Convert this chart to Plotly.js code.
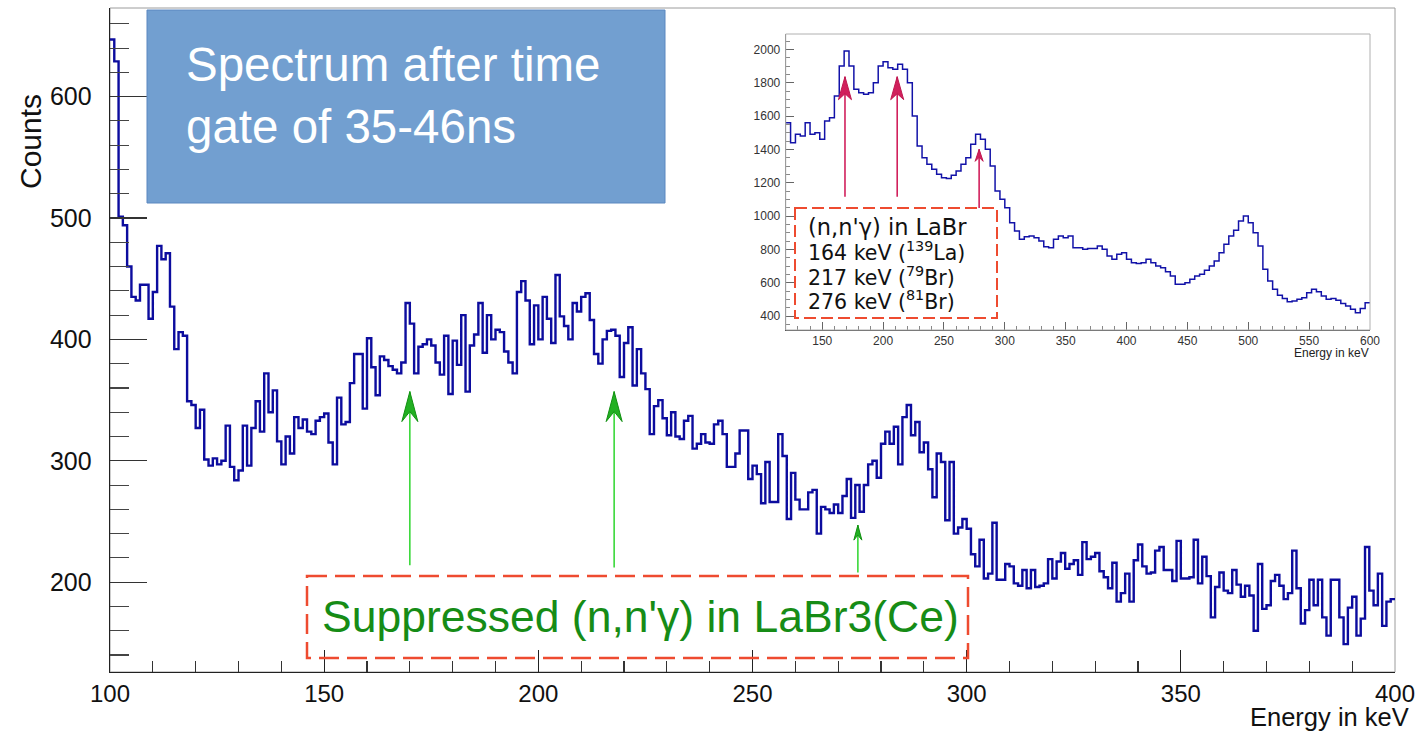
<!DOCTYPE html>
<html>
<head>
<meta charset="utf-8">
<script src="https://cdn.plot.ly/plotly-3.0.1.min.js"></script>
<style>html,body{margin:0;padding:0;background:#fff;}#chart{width:1425px;height:732px;}</style>
</head>
<body>
<div id="chart"></div>
<script>
// ---------- data ----------
const mainLowEdge = 100;
const mainBinWidth = 1;
const mainCounts = [
647,629,501,494,460,435,432,445,445,417,
439,477,466,471,427,392,406,403,349,346,
327,342,301,296,302,297,300,329,295,284,
292,329,296,327,349,324,372,340,358,316,
297,320,306,336,327,334,324,322,333,336,
339,315,297,352,330,332,364,388,388,343,
401,377,354,386,383,378,375,372,381,430,
413,372,394,396,400,395,381,371,403,355,
399,379,420,357,395,404,430,389,420,400,
408,406,390,381,372,439,448,432,396,428,
400,435,417,397,453,419,411,400,430,423,
435,438,416,388,380,400,407,408,403,369,
397,410,362,392,372,359,322,345,350,335,
321,340,320,318,333,337,310,314,322,315,
314,330,333,322,295,295,306,325,325,285,
296,289,265,299,266,266,322,304,252,290,
268,260,260,274,276,240,262,260,257,264,
257,271,285,253,280,258,280,297,300,286,
314,324,314,328,297,336,346,321,332,307,
315,293,270,306,299,251,299,240,245,252,
244,223,213,235,203,207,249,202,202,215,
213,199,197,210,195,210,196,197,199,219,
203,217,224,211,215,218,206,233,219,221,
224,209,204,195,216,184,191,207,184,218,
231,213,207,208,226,229,210,210,201,234,
203,203,204,235,199,221,205,171,196,208,
193,191,210,198,188,197,189,160,215,178,
181,201,206,197,186,191,226,195,166,177,
202,181,202,171,156,202,202,171,149,179,
188,156,170,229,193,181,207,164,184,186
];

const insetLowEdge = 120;
const insetBinWidth = 4;
const insetCounts = [
1560,1440,1490,1480,1560,1490,1500,1460,1570,1590,
1720,1900,1990,1900,1760,1740,1730,1740,1800,1900,
1925,1890,1880,1910,1880,1800,1600,1420,1350,1310,
1280,1250,1230,1225,1245,1270,1310,1350,1430,1490,
1460,1400,1300,1150,1100,1050,960,910,860,875,
880,870,850,815,810,860,880,870,880,810,
810,800,805,805,820,800,760,740,770,780,
740,720,715,720,740,720,700,690,665,640,
590,590,600,620,640,650,675,700,730,780,
830,880,915,970,1000,960,900,820,680,610,
560,525,505,485,490,500,510,540,560,545,
520,500,505,495,475,460,440,420,445,480
];

// arrow markers (keV, tip count, tail count)
const mainArrowsKeV = [170, 217.7, 274.6];
const mainArrowTips = [357, 357, 247];
const mainArrowTails = [214, 212, 208];
const insetArrowsKeV = [168.7, 211.6, 278.9];
const insetArrowTips = [1836, 1836, 1400];
const insetArrowTails = [1116, 1116, 1048];
const insetHeader = "(n,n'γ) in LaBr";
const insetLines = ["164 keV (<sup>139</sup>La)", "217 keV (<sup>79</sup>Br)", "276 keV (<sup>81</sup>Br)"];

// ---------- helpers ----------
function stepTrace(low, width, counts, xa, ya, color, lw) {
  const x = [], y = [];
  counts.forEach((c, i) => { x.push(low + i * width); y.push(c); });
  x.push(low + counts.length * width); y.push(counts[counts.length - 1]);
  return {x, y, xaxis: xa, yaxis: ya, type: 'scatter', mode: 'lines',
          line: {shape: 'hv', color, width: lw}, hoverinfo: 'skip', showlegend: false};
}

const W = 1425, H = 732, L = 110, R = 30, T = 8, B = 60;
const pw = W - L - R, ph = H - T - B;
const px = X => (X - L) / pw;
const py = Y => (H - B - Y) / ph;

const traces = [
  stepTrace(mainLowEdge, mainBinWidth, mainCounts, 'x', 'y', '#0c0c9e', 2.4),
  stepTrace(insetLowEdge, insetBinWidth, insetCounts, 'x2', 'y2', '#1212a8', 1.5)
];

const tickFont = {family: 'Liberation Sans, Arial, sans-serif', size: 25, color: '#111'};
const smallFont = {family: 'Liberation Sans, Arial, sans-serif', size: 12, color: '#333'};

const shapes = [
  {type: 'rect', xref: 'x domain', yref: 'y domain', x0: 0, x1: 1, y0: 0, y1: 1,
   line: {color: '#9c9c9c', width: 1}, layer: 'below'},
  {type: 'rect', xref: 'paper', yref: 'paper', x0: px(147), x1: px(665), y0: py(10), y1: py(203),
   fillcolor: '#729fd0', line: {color: '#5a87c0', width: 1}, layer: 'above'},
  {type: 'rect', xref: 'paper', yref: 'paper', x0: px(307), x1: px(968), y0: py(576), y1: py(658),
   line: {color: '#ee4b30', width: 2.5, dash: '20px,8px'}},
  {type: 'rect', xref: 'x2 domain', yref: 'y2 domain', x0: 0, x1: 1, y0: 0, y1: 1,
   line: {color: '#b0b0b0', width: 1}},
  {type: 'rect', xref: 'paper', yref: 'paper', x0: px(795), x1: px(997), y0: py(208), y1: py(318),
   line: {color: '#ee4b30', width: 2, dash: '12px,5px'}}
];

function arrowHead(xref, yref, x, y, len, half, notch, fill, edge) {
  return {type: 'path', xref, yref, xsizemode: 'pixel', ysizemode: 'pixel', xanchor: x, yanchor: y,
    path: `M0,0 L${-half},${-len} L0,${-notch} L${half},${-len} Z`,
    fillcolor: fill, line: {color: edge, width: 1}};
}
mainArrowsKeV.forEach((k, i) => {
  shapes.push({type: 'line', xref: 'x', yref: 'y', x0: k, x1: k, y0: mainArrowTails[i], y1: mainArrowTips[i],
    line: {color: '#3ad83a', width: 1.6}});
  shapes.push(i < 2 ? arrowHead('x', 'y', k, mainArrowTips[i], 30, 8, 20, '#22b022', '#129012')
                    : arrowHead('x', 'y', k, mainArrowTips[i], 15, 4, 10, '#22b022', '#129012'));
});
insetArrowsKeV.forEach((k, i) => {
  shapes.push({type: 'line', xref: 'x2', yref: 'y2', x0: k, x1: k, y0: insetArrowTails[i], y1: insetArrowTips[i],
    line: {color: '#d1205c', width: 1.6}});
  shapes.push(i < 2 ? arrowHead('x2', 'y2', k, insetArrowTips[i], 23, 6.5, 17, '#d1205c', '#c01850')
                    : arrowHead('x2', 'y2', k, insetArrowTips[i], 12, 4, 8, '#d1205c', '#c01850'));
});

const annotations = [];
annotations.push({xref: 'paper', yref: 'paper', x: px(184), y: py(96), xanchor: 'left', yanchor: 'middle',
  text: 'Spectrum after time<br>gate of 35-46ns', showarrow: false, align: 'left',
  font: {family: 'Liberation Sans, Arial, sans-serif', size: 47.5, color: '#ffffff'}});
annotations.push({xref: 'paper', yref: 'paper', x: px(320), y: py(616), xanchor: 'left', yanchor: 'middle',
  text: "Suppressed (n,n'γ) in LaBr3(Ce)", showarrow: false,
  font: {family: 'Liberation Sans, Arial, sans-serif', size: 44.5, color: '#168c16'}});
annotations.push({xref: 'paper', yref: 'paper', x: px(31), y: py(142), xanchor: 'center', yanchor: 'middle',
  text: 'Counts', textangle: -90, showarrow: false,
  font: {family: 'Liberation Sans, Arial, sans-serif', size: 30, color: '#111'}});
annotations.push({xref: 'paper', yref: 'paper', x: px(1411), y: py(717), xanchor: 'right', yanchor: 'middle',
  text: 'Energy in keV', showarrow: false,
  font: {family: 'Liberation Sans, Arial, sans-serif', size: 25.5, color: '#111'}});
annotations.push({xref: 'paper', yref: 'paper', x: px(1371), y: py(353), xanchor: 'right', yanchor: 'middle',
  text: 'Energy in keV', showarrow: false,
  font: {family: 'Liberation Sans, Arial, sans-serif', size: 12, color: '#222'}});
annotations.push({xref: 'paper', yref: 'paper', x: px(806), y: py(227), xanchor: 'left', yanchor: 'middle',
  text: insetHeader, showarrow: false,
  font: {family: 'DejaVu Sans, sans-serif', size: 22.5, color: '#111'}});
const lineY = [251, 276, 300];
insetLines.forEach((t, i) => {
  annotations.push({xref: 'paper', yref: 'paper', x: px(806), y: py(lineY[i]), xanchor: 'left', yanchor: 'middle',
    text: t, showarrow: false, font: {family: 'DejaVu Sans, sans-serif', size: 20.5, color: '#111'}});
});

const layout = {
  width: W, height: H,
  margin: {l: L, r: R, t: T, b: B, pad: 0},
  paper_bgcolor: '#ffffff', plot_bgcolor: '#ffffff',
  showlegend: false,
  xaxis: {range: [100, 400], domain: [0, 1], anchor: 'y', showgrid: false, zeroline: false,
    showline: true, linecolor: '#222', linewidth: 1.3, ticks: 'inside', ticklen: 22, tickwidth: 1.2,
    tickcolor: '#222', tick0: 100, dtick: 50, tickfont: {family: 'Liberation Sans, Arial, sans-serif', size: 24, color: '#111'}, ticklabelstandoff: 0,
    minor: {ticks: 'inside', ticklen: 11, tickwidth: 1.1, tickcolor: '#333', dtick: 10, tick0: 100, showgrid: false}},
  yaxis: {range: [126, 673], domain: [0, 1], anchor: 'x', showgrid: false, zeroline: false,
    showline: true, linecolor: '#222', linewidth: 1.3, ticks: 'inside', ticklen: 37, tickwidth: 1.2,
    tickcolor: '#333', tick0: 0, dtick: 100, tickfont: tickFont, ticklabelstandoff: 12,
    minor: {ticks: 'inside', ticklen: 19, tickwidth: 1.1, tickcolor: '#444', dtick: 20, tick0: 0, showgrid: false}},
  xaxis2: {range: [120, 600], domain: [px(785.7), px(1370)], anchor: 'y2', showgrid: false, zeroline: false,
    showline: true, linecolor: '#444', linewidth: 1, ticks: 'inside', ticklen: 8, tickwidth: 1,
    tickcolor: '#666', tick0: 100, dtick: 50, tickfont: smallFont, ticklabelstandoff: 0,
    minor: {ticks: 'inside', ticklen: 4, tickwidth: 1, tickcolor: '#888', dtick: 10, tick0: 100, showgrid: false}},
  yaxis2: {range: [316, 2092], domain: [py(330), py(34)], anchor: 'x2', showgrid: false, zeroline: false,
    showline: true, linecolor: '#444', linewidth: 1, ticks: 'inside', ticklen: 8, tickwidth: 1,
    tickcolor: '#666', tick0: 0, dtick: 200, tickfont: smallFont, ticklabelstandoff: 2,
    minor: {ticks: 'inside', ticklen: 4, tickwidth: 1, tickcolor: '#888', dtick: 50, tick0: 0, showgrid: false}},
  shapes, annotations
};

Plotly.newPlot('chart', traces, layout, {staticPlot: true, displayModeBar: false});
</script>
</body>
</html>
